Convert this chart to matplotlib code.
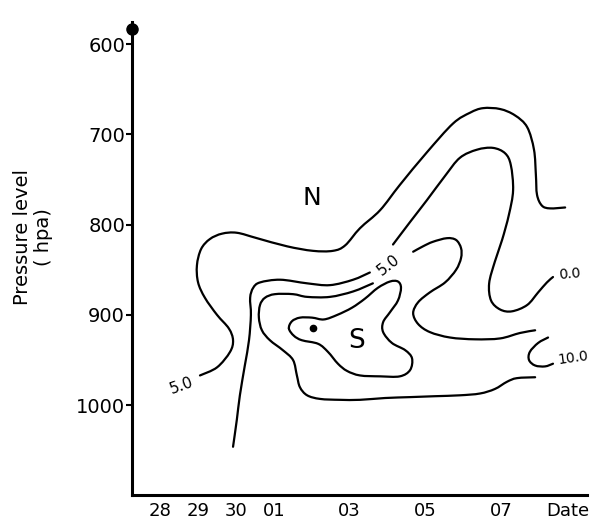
import matplotlib
matplotlib.use('Agg')
import matplotlib.pyplot as plt
from matplotlib.path import Path
from matplotlib.patches import PathPatch
import numpy as np

# ---- axis categories ----
date_pos = [0, 1, 2, 3, 5, 7, 9]          # day index (28 = 0)
date_labels = ['28', '29', '30', '01', '03', '05', '07']
pressure_levels = [600, 700, 800, 900, 1000]

# ---- isolines (day index, pressure hPa) ----
lineA_x = [1.06, 1.51, 1.85, 1.93, 1.82, 1.51, 1.19, 1.01, 0.98, 1.09, 1.32, 1.64, 2.03, 2.56,
           3.35, 4.03, 4.56, 4.88, 5.27, 5.80, 6.32, 7.03, 7.72, 8.17, 8.51, 8.96, 9.35, 9.67,
           9.85, 9.90, 9.93, 10.06, 10.27, 10.67]
lineA_p = [967, 958, 941, 928, 915, 900, 881, 864, 845, 827, 816, 810, 809, 815,
           824, 829, 829, 823, 804, 784, 756, 720, 688, 676, 671, 672, 679, 692,
           717, 745, 767, 779, 782, 781]

lineB_x = [1.93, 2.03, 2.11, 2.24, 2.35, 2.40, 2.38, 2.46, 2.64, 3.17, 3.88, 4.48, 5.09, 5.53]
lineB_p = [1046, 1016, 989, 956, 928, 900, 881, 870, 864, 861, 865, 867, 861, 853]

arch2_x = [6.14, 6.59, 7.03, 7.51, 7.90, 8.35, 8.77, 9.09, 9.24, 9.30, 9.19, 9.01, 8.82, 8.67,
           8.72, 8.96, 9.27, 9.67, 9.96, 10.19, 10.35]
arch2_p = [822, 797, 773, 746, 726, 717, 715, 721, 734, 762, 789, 817, 841, 865,
           884, 894, 896, 889, 875, 864, 858]

lineC_x = [6.67, 6.93, 7.19, 7.56, 7.80, 7.93, 7.93, 7.80, 7.51, 7.11, 6.80, 6.67, 6.80, 7.11,
           7.64, 8.30, 8.96, 9.48, 9.88]
lineC_p = [830, 824, 819, 815, 817, 826, 837, 850, 864, 875, 886, 898, 910, 919,
           925, 927, 926, 920, 917]

lineD_x = [5.61, 5.09, 4.48, 3.88, 3.51, 3.03, 2.77, 2.64, 2.61, 2.69, 2.90, 3.24, 3.51, 3.61,
           3.69, 3.88, 4.22, 4.74, 5.27, 5.93, 6.59, 7.24, 7.90, 8.43, 8.82, 9.14, 9.40, 9.88]
lineD_p = [865, 874, 880, 880, 877, 877, 881, 889, 903, 917, 928, 939, 950, 967,
           980, 989, 993, 994, 994, 992, 991, 990, 989, 987, 982, 974, 970, 969]

lineE_x = [3.40, 3.48, 3.69, 4.01, 4.32, 4.67, 5.06, 5.40, 5.74, 6.06, 6.27, 6.35, 6.27, 6.06,
           5.88, 5.88, 6.11, 6.46, 6.64, 6.59, 6.32, 5.80, 5.27, 4.93, 4.69, 4.43, 4.17, 3.74,
           3.53, 3.40]
lineE_p = [915, 907, 903, 903, 905, 900, 892, 882, 870, 863, 863, 870, 884, 897,
           908, 919, 931, 939, 948, 961, 968, 968, 967, 962, 954, 941, 932, 928,
           923, 915]

lineF_x = [10.22, 9.96, 9.74, 9.72, 9.88, 10.14, 10.35]
lineF_p = [925, 931, 941, 950, 956, 957, 954]

dot_x = [4.03]
dot_p = [914]

lines = [(lineA_x, lineA_p, False), (lineB_x, lineB_p, False), (arch2_x, arch2_p, False),
         (lineC_x, lineC_p, False), (lineD_x, lineD_p, False), (lineE_x, lineE_p, True),
         (lineF_x, lineF_p, False)]


def smooth_path(xs, ps, closed):
    """Catmull-Rom style Bezier path passing through every given point."""
    pts = np.column_stack([xs, ps]).astype(float)
    if closed:
        pts = pts[:-1]
        n = len(pts)
        get = lambda i: pts[i % n]
        segs = range(n)
    else:
        n = len(pts)
        get = lambda i: pts[min(max(i, 0), n - 1)]
        segs = range(n - 1)
    verts = [get(0)]
    codes = [Path.MOVETO]
    for i in segs:
        p0, p1, p2, p3 = get(i - 1), get(i), get(i + 1), get(i + 2)
        c1 = p1 + (p2 - p0) / 6.0
        c2 = p2 - (p3 - p1) / 6.0
        verts += [c1, c2, p2]
        codes += [Path.CURVE4] * 3
    return Path(np.array(verts), codes)


W, H = 593, 519
fig = plt.figure(figsize=(W / 100, H / 100), dpi=100)
fig.patch.set_facecolor('white')
ax = fig.add_axes([132 / W, 1 - 495 / H, (587 - 132) / W, (495 - 22) / H])
ax.set_xlim(-0.729, 11.245)
ax.set_ylim(1099.4, 575.6)

for xs, ps, closed in lines:
    ax.add_patch(PathPatch(smooth_path(xs, ps, closed), fill=False, edgecolor='black',
                           lw=1.6, joinstyle='round', capstyle='round'))
ax.plot(dot_x, dot_p, 'o', color='black', ms=4.5)

# marker at the top of the vertical axis
ax.plot([-0.729], [583], 'o', color='black', ms=8, clip_on=False, zorder=5)

for s in ['top', 'right']:
    ax.spines[s].set_visible(False)
for s in ['left', 'bottom']:
    ax.spines[s].set_linewidth(2.2)
    ax.spines[s].set_color('black')

ax.set_xticks(date_pos)
ax.set_xticklabels(date_labels, fontsize=13)
ax.tick_params(axis='x', length=0, pad=5)
ax.set_yticks(pressure_levels)
ax.set_yticklabels([str(v) for v in pressure_levels], fontsize=14)
ax.tick_params(axis='y', length=4, width=1.5, pad=1, direction='out')

# in-plot annotations
ax.text(4.01, 771, 'N', fontsize=18, ha='center', va='center')
ax.text(5.19, 929, 'S', fontsize=19, ha='center', va='center')
ax.text(0.59, 978, '5.0', fontsize=11, ha='center', va='center', rotation=20)
ax.text(6.03, 845, '5.0', fontsize=11, ha='center', va='center', rotation=38)
ax.text(10.80, 855, '0.0', fontsize=10, ha='center', va='center', rotation=5)
ax.text(10.88, 948, '10.0', fontsize=10, ha='center', va='center', rotation=8)

fig.text(568 / W, 1 - 511 / H, 'Date', fontsize=13, ha='center', va='center')
fig.text(33 / W, 1 - 237 / H, 'Pressure level\n( hpa)', fontsize=14, ha='center',
         va='center', rotation=90, linespacing=1.15, multialignment='center')

fig.savefig('out.png', dpi=100, facecolor='white')
